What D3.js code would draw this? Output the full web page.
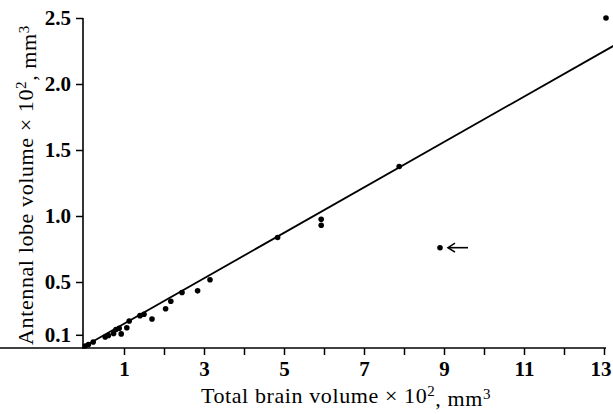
<!DOCTYPE html>
<html>
<head>
<meta charset="utf-8">
<script src="https://cdn.jsdelivr.net/npm/d3@7"></script>
<style>
  html, body { margin: 0; padding: 0; background: #fff; }
  svg { display: block; }
</style>
</head>
<body>
<svg id="chart" width="613" height="414"></svg>
<script>
// ---- data ----
const brainVolume = [0.03, 0.11, 0.23, 0.53, 0.61, 0.74, 0.80, 0.88, 0.93, 1.07, 1.13,
                     1.40, 1.50, 1.70, 2.04, 2.17, 2.45, 2.84, 3.15,
                     4.84, 5.93, 5.93, 7.88, 8.90, 13.05];
const antennalVolume = [0.015, 0.027, 0.045, 0.083, 0.095, 0.110, 0.140, 0.150, 0.107, 0.153, 0.205,
                        0.245, 0.256, 0.220, 0.297, 0.354, 0.420, 0.433, 0.517,
                        0.837, 0.975, 0.930, 1.375, 0.760, 2.500];
const outlierIndex = 23;
const fitX = [0, 13.3];
const fitY = [0.012, 2.30];
const xTicks = [1, 2, 3, 4, 5, 6, 7, 8, 9, 10, 11, 12, 13];
const xTickLabels = ["1", "", "3", "", "5", "", "7", "", "9", "", "11", "", "13"];
const yTicks = [0.1, 0.5, 1.0, 1.5, 2.0, 2.5];
const yTickLabels = ["0.1", "0.5", "1.0", "1.5", "2.0", "2.5"];
// titles as [text, isSuperscript] parts
const xTitleParts = [["Total brain volume × 10", false], ["2", true], [", mm", false], ["3", true]];
const yTitleParts = [["Antennal lobe volume × 10", false], ["2", true], [", mm", false], ["3", true]];

// ---- layout ----
const svg = d3.select("#chart");
const x = d3.scaleLinear().domain([0, 13]).range([84, 604]);
const y = d3.scaleLinear().domain([0, 2.5]).range([348, 18]);
const serif = "'Liberation Serif', 'Times New Roman', serif";

// x axis
const xAxis = d3.axisBottom(x)
  .tickValues(xTicks)
  .tickFormat((d, i) => xTickLabels[i])
  .tickSize(7).tickSizeOuter(0).tickPadding(6);
const gx = svg.append("g").attr("transform", `translate(0,${y(0)})`).call(xAxis);

// y axis
const yAxis = d3.axisLeft(y)
  .tickValues(yTicks)
  .tickFormat((d, i) => yTickLabels[i])
  .tickSize(7).tickSizeOuter(0).tickPadding(5);
const gy = svg.append("g").attr("transform", `translate(${x(0) - 1},0)`).call(yAxis);

[gx, gy].forEach(g => {
  g.select(".domain").attr("stroke", "#000").attr("stroke-width", 1.6);
  g.selectAll(".tick line").attr("stroke", "#000").attr("stroke-width", 1.5);
  g.selectAll(".tick text")
    .attr("fill", "#000")
    .style("font-family", serif)
    .style("font-size", "21px")
    .style("font-weight", "bold");
});
// keep the last x label inside the page edge
gx.selectAll(".tick text").filter(d => d === 13).attr("text-anchor", "end").attr("dx", 7);
gy.select(".domain").attr("d", `M0,${y(2.5)}V${y(0) + 1}`);
gx.select(".domain").attr("d", `M-1,0H${x(13) + 2}`);

// fit line
svg.append("line")
  .attr("x1", x(fitX[0])).attr("y1", y(fitY[0]))
  .attr("x2", x(fitX[1])).attr("y2", y(fitY[1]))
  .attr("stroke", "#000").attr("stroke-width", 1.8);

// points
svg.append("g").selectAll("circle")
  .data(brainVolume.map((v, i) => [v, antennalVolume[i]]))
  .join("circle")
  .attr("cx", d => x(d[0]))
  .attr("cy", d => y(d[1]))
  .attr("r", 2.8)
  .attr("fill", "#000");

// arrow pointing at outlier
const ox = x(brainVolume[outlierIndex]);
const oy = y(antennalVolume[outlierIndex]);
svg.append("line")
  .attr("x1", ox + 9).attr("y1", oy)
  .attr("x2", ox + 28).attr("y2", oy)
  .attr("stroke", "#000").attr("stroke-width", 1.6);
svg.append("path")
  .attr("d", `M${ox + 15},${oy - 4.5} L${ox + 8},${oy} L${ox + 15},${oy + 4.5}`)
  .attr("fill", "none").attr("stroke", "#000").attr("stroke-width", 1.6);

// titles
function addTitle(parts, transform) {
  const t = svg.append("text")
    .attr("transform", transform)
    .attr("text-anchor", "middle")
    .style("font-family", serif).style("font-size", "22px")
    .style("letter-spacing", "0.6px");
  parts.forEach(([s, sup], i) => {
    const prevSup = i > 0 && parts[i - 1][1];
    t.append("tspan")
      .attr("dy", sup ? "-0.45em" : (prevSup ? "0.45em" : null))
      .style("font-size", sup ? "15px" : null)
      .text(s);
  });
  return t;
}
addTitle(xTitleParts, "translate(346,403)");
addTitle(yTitleParts, "translate(33,185) rotate(-90)");
</script>
</body>
</html>
